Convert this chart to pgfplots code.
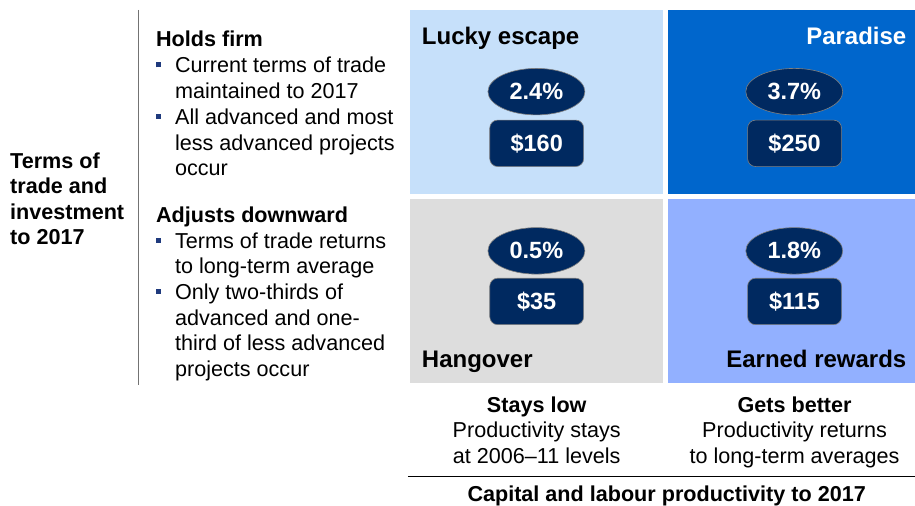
\documentclass[border=0pt]{standalone}
\usepackage{pgfplots}
\pgfplotsset{compat=1.18}
\usepackage{fontspec}
\setmainfont{Liberation Sans}
\usetikzlibrary{shapes.geometric}
\definecolor{qTL}{RGB}{198,224,250}
\definecolor{qTR}{RGB}{0,102,204}
\definecolor{qBL}{RGB}{221,221,221}
\definecolor{qBR}{RGB}{146,176,255}
\definecolor{navy}{RGB}{0,41,96}
\definecolor{bul}{RGB}{31,58,125}
\newcommand\bodyfont{\fontsize{21.6bp}{25.6bp}\selectfont}
\newcommand\headfont{\fontsize{21.6bp}{25.6bp}\selectfont\bfseries}
\newcommand\titlefont{\fontsize{24bp}{28bp}\selectfont\bfseries}
\newcommand\valfont{\fontsize{23.5bp}{28bp}\selectfont\bfseries}
\newcommand\bul{\makebox[19bp][l]{\textcolor{bul}{\rule[5.5bp]{5bp}{5bp}}}}
\begin{document}
\begin{tikzpicture}
\begin{axis}[scale only axis, width=915bp, height=506bp,
  xmin=0, xmax=915, ymin=0, ymax=506, y dir=reverse,
  hide axis, clip=false,
  /pgf/number format/assume math mode=true]
% full canvas (bounding box)
\path (axis cs:0,0) rectangle (axis cs:915,506);
% quadrants
\fill[qTL] (axis cs:410,10.5) rectangle (axis cs:663,194);
\fill[qTR] (axis cs:668,10.5) rectangle (axis cs:915,194);
\fill[qBL] (axis cs:410,199) rectangle (axis cs:663,383);
\fill[qBR] (axis cs:668,199) rectangle (axis cs:915,383);
% lines
\draw[black!55, line width=1bp] (axis cs:139,10) -- (axis cs:139,385);
\draw[black, line width=1bp] (axis cs:408,477) -- (axis cs:915,477);
% growth rates
\addplot[only marks, mark=*, mark size=0.4bp, color=navy, point meta=explicit,
  nodes near coords={\pgfmathprintnumber[fixed, fixed zerofill, precision=1]{\pgfplotspointmeta}\%},
  every node near coord/.append style={anchor=center, ellipse, fill=navy, draw=black!50, line width=0.6bp,
    minimum width=97bp, minimum height=46.5bp, inner sep=0pt, text=white, font=\valfont}]
  table[meta=v] {
x     y     v
536.7 91.7  2.4
794.7 91.7  3.7
536.7 251.0 0.5
794.7 251.0 1.8
};
% dollar values
\addplot[only marks, mark=*, mark size=0.4bp, color=navy, point meta=explicit,
  nodes near coords={\$\pgfmathprintnumber{\pgfplotspointmeta}},
  every node near coord/.append style={anchor=center, rectangle, rounded corners=8bp, fill=navy, draw=black!50, line width=0.6bp,
    minimum width=94bp, minimum height=46.5bp, inner sep=0pt, text=white, font=\valfont}]
  table[meta=v] {
x     y     v
537.0 143.4 160
795.0 143.4 250
537.0 301.6 35
795.0 301.6 115
};
% quadrant titles
\node[anchor=base west, inner sep=0, font=\titlefont] at (axis cs:422,44.3) {Lucky escape};
\node[anchor=base east, inner sep=0, font=\titlefont, text=white] at (axis cs:907,44.3) {Paradise};
\node[anchor=base west, inner sep=0, font=\titlefont] at (axis cs:422,368) {Hangover};
\node[anchor=base east, inner sep=0, font=\titlefont] at (axis cs:907,368) {Earned rewards};
% left label
\node[anchor=base west, inner sep=0, font=\headfont] at (axis cs:10,168.5) {Terms of};
\node[anchor=base west, inner sep=0, font=\headfont] at (axis cs:10,194) {trade and};
\node[anchor=base west, inner sep=0, font=\headfont] at (axis cs:10,219.5) {investment};
\node[anchor=base west, inner sep=0, font=\headfont] at (axis cs:10,245) {to 2017};
% upper scenario
\node[anchor=base west, inner sep=0, font=\headfont] at (axis cs:156,47) {Holds firm};
\node[anchor=base west, inner sep=0, font=\bodyfont] at (axis cs:156,72.8) {\bul Current terms of trade};
\node[anchor=base west, inner sep=0, font=\bodyfont] at (axis cs:175,98.6) {maintained to 2017};
\node[anchor=base west, inner sep=0, font=\bodyfont] at (axis cs:156,124.4) {\bul All advanced and most};
\node[anchor=base west, inner sep=0, font=\bodyfont] at (axis cs:175,150.2) {less advanced projects};
\node[anchor=base west, inner sep=0, font=\bodyfont] at (axis cs:175,176) {occur};
% lower scenario
\node[anchor=base west, inner sep=0, font=\headfont] at (axis cs:156,222.5) {Adjusts downward};
\node[anchor=base west, inner sep=0, font=\bodyfont] at (axis cs:156,248.2) {\bul Terms of trade returns};
\node[anchor=base west, inner sep=0, font=\bodyfont] at (axis cs:175,273.9) {to long-term average};
\node[anchor=base west, inner sep=0, font=\bodyfont] at (axis cs:156,299.6) {\bul Only two-thirds of};
\node[anchor=base west, inner sep=0, font=\bodyfont] at (axis cs:175,325.3) {advanced and one-};
\node[anchor=base west, inner sep=0, font=\bodyfont] at (axis cs:175,351) {third of less advanced};
\node[anchor=base west, inner sep=0, font=\bodyfont] at (axis cs:175,376.7) {projects occur};
% bottom labels
\node[anchor=base, inner sep=0, font=\headfont] at (axis cs:537,412.5) {Stays low};
\node[anchor=base, inner sep=0, font=\bodyfont] at (axis cs:537,438) {Productivity stays};
\node[anchor=base, inner sep=0, font=\bodyfont] at (axis cs:537,463.5) {at 2006–11 levels};
\node[anchor=base, inner sep=0, font=\headfont] at (axis cs:795,412.5) {Gets better};
\node[anchor=base, inner sep=0, font=\bodyfont] at (axis cs:795,438) {Productivity returns};
\node[anchor=base, inner sep=0, font=\bodyfont] at (axis cs:795,463.5) {to long-term averages};
\node[anchor=base, inner sep=0, font=\headfont] at (axis cs:667,501.5) {Capital and labour productivity to 2017};
\end{axis}
\end{tikzpicture}
\end{document}
